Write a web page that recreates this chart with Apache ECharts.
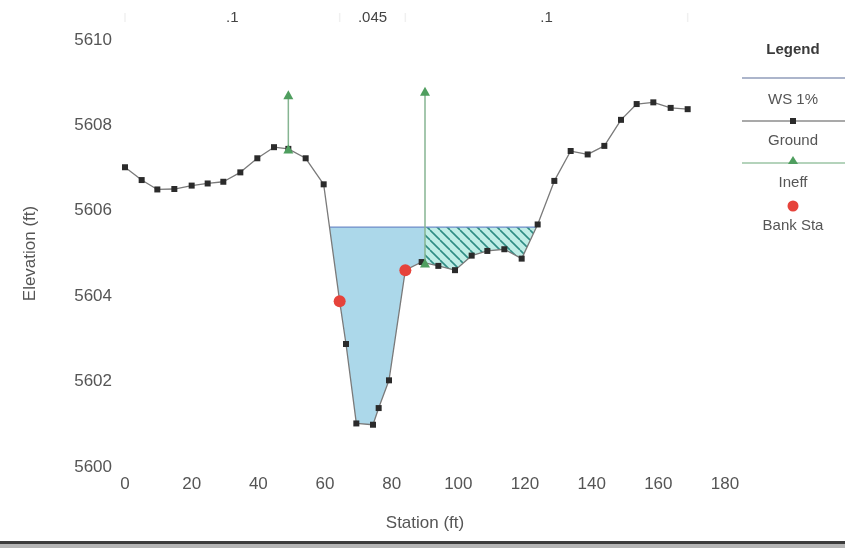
<!DOCTYPE html>
<html><head><meta charset="utf-8">
<script src="https://cdn.jsdelivr.net/npm/echarts@6/dist/echarts.min.js"></script>
<style>html,body{margin:0;padding:0;background:#fff}#c{width:845px;height:548px}</style>
</head><body><div id="c"></div>
<script>
// ---- data ----
const groundStation = [0, 5, 9.7, 14.8, 20, 24.8, 29.5, 34.6, 39.7, 44.7, 49, 54.2, 59.6, 64.4, 66.3, 69.4, 74.4, 76.1, 79.2, 84.1, 89, 94, 99, 104, 108.7, 113.8, 119, 123.8, 128.8, 133.7, 138.8, 143.8, 148.8, 153.5, 158.5, 163.7, 168.8];
const groundElev = [5607.02, 5606.72, 5606.50, 5606.51, 5606.59, 5606.64, 5606.68, 5606.90, 5607.23, 5607.49, 5607.45, 5607.23, 5606.62, 5603.88, 5602.88, 5601.02, 5600.99, 5601.38, 5602.03, 5604.61, 5604.80, 5604.71, 5604.61, 5604.95, 5605.06, 5605.10, 5604.88, 5605.68, 5606.70, 5607.40, 5607.32, 5607.52, 5608.13, 5608.50, 5608.54, 5608.41, 5608.38];
const wsElev = 5605.62;
const ineffStation = [49, 90];
const ineffBase = [5607.45, 5604.78];
const ineffTop = [5608.72, 5608.80];
const bankStation = [64.4, 84.1];
const bankElev = [5603.88, 5604.61];
const nValues = ['.1', '.045', '.1'];
const nBreaks = [0, 64.4, 84.1, 168.8];
const xTicks = [0, 20, 40, 60, 80, 100, 120, 140, 160, 180];
const yTicks = [5600, 5602, 5604, 5606, 5608, 5610];
const legendItems = ['WS 1%', 'Ground', 'Ineff', 'Bank Sta'];

// ---- helpers ----
function groundAt(x) {
  for (let i = 0; i < groundStation.length - 1; i++) {
    const a = groundStation[i], b = groundStation[i + 1];
    if (x >= a && x <= b) {
      const t = (x - a) / (b - a);
      return groundElev[i] + t * (groundElev[i + 1] - groundElev[i]);
    }
  }
  return groundElev[groundElev.length - 1];
}
let iMin = 0;
groundElev.forEach((v, i) => { if (v < groundElev[iMin]) iMin = i; });
let iL = iMin; while (iL > 0 && groundElev[iL - 1] < wsElev) iL--;
let iR = iMin; while (iR < groundElev.length - 1 && groundElev[iR + 1] < wsElev) iR++;
function cross(i, j) {
  const t = (wsElev - groundElev[i]) / (groundElev[j] - groundElev[i]);
  return groundStation[i] + t * (groundStation[j] - groundStation[i]);
}
const wsLeft = cross(iL - 1, iL);
const wsRight = cross(iR, iR + 1);
function wetPoly(a, b) {
  const pts = [[a, wsElev], [a, groundAt(a)]];
  groundStation.forEach((s, i) => { if (s > a && s < b) pts.push([s, groundElev[i]]); });
  pts.push([b, groundAt(b)], [b, wsElev]);
  return pts;
}
const polys = [wetPoly(wsLeft, ineffStation[1]), wetPoly(ineffStation[1], wsRight)];

// hatch pattern
const pc = document.createElement('canvas');
pc.width = 10; pc.height = 10;
const g = pc.getContext('2d');
g.fillStyle = '#c0ede6'; g.fillRect(0, 0, 10, 10);
g.strokeStyle = '#2f8c84'; g.lineWidth = 1.6;
[-10, 0, 10].forEach(k => { g.beginPath(); g.moveTo(k, 0); g.lineTo(k + 10, 10); g.stroke(); });

const FONT = 'Liberation Sans, Arial, sans-serif';
const TXT = '#555';

const series = [
  {
    type: 'custom', name: 'flow', z: 1, silent: true,
    data: [[wsLeft, wsElev], [ineffStation[1], wsElev]],
    encode: { x: 0, y: 1 },
    renderItem: function (params, api) {
      const pts = polys[params.dataIndex].map(p => api.coord(p));
      return {
        type: 'polygon', shape: { points: pts },
        style: { fill: params.dataIndex === 0 ? '#acd8ea' : { image: pc, repeat: 'repeat' }, stroke: null }
      };
    }
  },
  {
    type: 'line', name: legendItems[0], z: 2, symbol: 'none', silent: true,
    data: [[wsLeft, wsElev], [wsRight, wsElev]],
    lineStyle: { color: '#6f8cc8', width: 1.2 }
  },
  {
    type: 'line', name: legendItems[1], z: 3, symbol: 'rect', symbolSize: 6, silent: true,
    data: groundStation.map((s, i) => [s, groundElev[i]]),
    lineStyle: { color: '#7a7a7a', width: 1.3 },
    itemStyle: { color: '#2b2b2b' }
  }
];
ineffStation.forEach((s, i) => {
  series.push({
    type: 'line', name: legendItems[2], z: 4, symbol: 'triangle', symbolSize: [10, 9], silent: true,
    data: [[s, ineffBase[i]], [s, ineffTop[i]]],
    lineStyle: { color: '#86b592', width: 1.5 },
    itemStyle: { color: '#4f9e5f' }
  });
});
series.push({
  type: 'scatter', name: legendItems[3], z: 5, symbol: 'circle', symbolSize: 12, silent: true,
  data: bankStation.map((s, i) => [s, bankElev[i]]),
  itemStyle: { color: '#e6433b', opacity: 1 }
});

const chart = echarts.init(document.getElementById('c'), null, { renderer: 'canvas' });
chart.setOption({
  animation: false,
  backgroundColor: '#fff',
  grid: { left: 125, right: 120, top: 40, bottom: 81 },
  xAxis: {
    type: 'value', min: xTicks[0], max: xTicks[xTicks.length - 1], interval: 20,
    name: 'Station (ft)', nameLocation: 'middle', nameGap: 48,
    nameTextStyle: { fontSize: 17, color: TXT, fontFamily: FONT },
    axisLine: { show: false }, axisTick: { show: false }, splitLine: { show: false },
    axisLabel: { fontSize: 17, color: TXT, fontFamily: FONT, margin: 9, formatter: v => String(v) }
  },
  yAxis: {
    type: 'value', min: yTicks[0], max: yTicks[yTicks.length - 1], interval: 2,
    name: 'Elevation (ft)', nameLocation: 'middle', nameGap: 86, nameRotate: 90,
    nameTextStyle: { fontSize: 17, color: TXT, fontFamily: FONT },
    axisLine: { show: false }, axisTick: { show: false }, splitLine: { show: false },
    axisLabel: { fontSize: 17, color: TXT, fontFamily: FONT, margin: 13, formatter: v => String(v) }
  },
  series: series
});

// graphics: n-values, legend, border
const gr = [];
const px = v => chart.convertToPixel({ xAxisIndex: 0 }, v);
nValues.forEach((n, i) => {
  gr.push({ type: 'text', x: px((nBreaks[i] + nBreaks[i + 1]) / 2), y: 18,
    style: { text: n, fontSize: 15, fill: '#444', fontFamily: FONT, align: 'center', verticalAlign: 'middle' } });
});
nBreaks.forEach(b => {
  gr.push({ type: 'line', shape: { x1: px(b), y1: 13, x2: px(b), y2: 22 }, style: { stroke: '#f0f0f0', lineWidth: 1.5 } });
});
const LX = 793;
gr.push({ type: 'text', x: LX, y: 50, style: { text: 'Legend', fontSize: 15, fontWeight: 'bold', fill: '#3a3a3a', fontFamily: FONT, align: 'center', verticalAlign: 'middle' } });
gr.push({ type: 'line', shape: { x1: 742, y1: 78, x2: 845, y2: 78 }, style: { stroke: '#5a6c98', lineWidth: 1.2 } });
gr.push({ type: 'text', x: LX, y: 100, style: { text: legendItems[0], fontSize: 15, fill: TXT, fontFamily: FONT, align: 'center', verticalAlign: 'middle' } });
gr.push({ type: 'line', shape: { x1: 742, y1: 121, x2: 845, y2: 121 }, style: { stroke: '#555', lineWidth: 1.2 } });
gr.push({ type: 'rect', shape: { x: LX - 3, y: 118, width: 6, height: 6 }, style: { fill: '#2b2b2b' } });
gr.push({ type: 'text', x: LX, y: 141, style: { text: legendItems[1], fontSize: 15, fill: TXT, fontFamily: FONT, align: 'center', verticalAlign: 'middle' } });
gr.push({ type: 'line', shape: { x1: 742, y1: 163, x2: 845, y2: 163 }, style: { stroke: '#6aa878', lineWidth: 1.2 } });
gr.push({ type: 'polygon', shape: { points: [[LX - 5, 164], [LX + 5, 164], [LX, 156]] }, style: { fill: '#4f9e5f' } });
gr.push({ type: 'text', x: LX, y: 183, style: { text: legendItems[2], fontSize: 15, fill: TXT, fontFamily: FONT, align: 'center', verticalAlign: 'middle' } });
gr.push({ type: 'circle', shape: { cx: LX, cy: 206, r: 5.5 }, style: { fill: '#e6433b' } });
gr.push({ type: 'text', x: LX, y: 226, style: { text: legendItems[3], fontSize: 15, fill: TXT, fontFamily: FONT, align: 'center', verticalAlign: 'middle' } });
gr.push({ type: 'rect', shape: { x: 0, y: 541, width: 845, height: 3 }, style: { fill: '#3c3c3c' } });
gr.push({ type: 'rect', shape: { x: 0, y: 544, width: 845, height: 4 }, style: { fill: '#b5b5b5' } });
chart.setOption({ graphic: gr });
</script>
</body></html>
